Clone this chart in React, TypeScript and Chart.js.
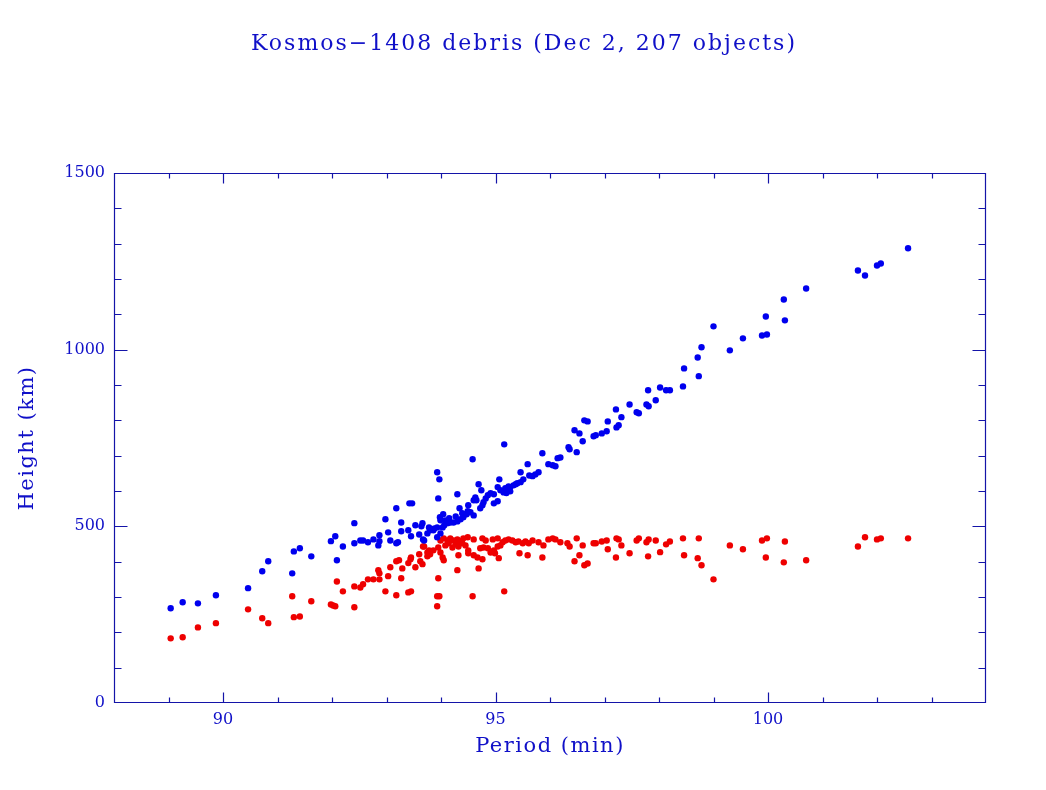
import React, { useEffect, useRef } from 'react';
import { Chart, registerables } from 'chart.js';

Chart.register(...registerables);

const TITLE = 'Kosmos\u22121408 debris (Dec 2, 207 objects)';
const X_LABEL = 'Period (min)';
const Y_LABEL = 'Height (km)';

const X_MIN = 88;
const X_MAX = 104;
const Y_MIN = 0;
const Y_MAX = 1500;
const X_MAJOR_TICKS = [90, 95, 100];
const Y_MAJOR_TICKS = [0, 500, 1000, 1500];
const X_MINOR_STEP = 1;
const Y_MINOR_STEP = 100;

// Apogee (blue)
const apogeePeriod = [
  89.04, 89.26, 89.54, 89.87, 90.46, 90.72, 90.83, 91.27, 91.30, 91.41,
  91.62, 91.98, 92.06, 92.09, 92.20, 92.41, 92.41, 92.52, 92.57, 92.66,
  92.76, 92.85, 92.87, 92.87, 92.98, 93.03, 93.07, 93.18, 93.18, 93.21,
  93.27, 93.27, 93.40, 93.42, 93.47, 93.45, 93.53, 93.60, 93.64, 93.66,
  93.69, 93.75, 93.78, 93.88, 93.93, 93.97, 93.95, 93.93, 94.04, 93.98,
  93.99, 93.99, 94.03, 94.06, 94.12, 94.17, 94.23, 94.30, 94.36, 94.41,
  94.49, 94.34, 94.50, 94.60, 94.30, 94.72, 94.76, 94.78, 94.60, 94.63,
  94.58, 94.69, 94.74, 94.91, 94.97, 94.97, 95.04, 95.04, 95.09, 95.15,
  95.18, 95.20, 95.24, 95.33, 95.40, 95.46, 95.51, 95.07, 95.16, 95.46,
  95.62, 95.59, 95.79, 95.86, 95.97, 96.05, 96.10, 96.14, 96.19, 96.34,
  96.36, 96.49, 96.45, 96.54, 96.60, 96.63, 96.69, 96.80, 96.84, 96.95,
  97.04, 97.06, 97.21, 97.22, 97.26, 97.31, 97.46, 97.59, 97.63, 97.77,
  97.81, 97.80, 97.94, 98.02, 98.13, 98.20, 98.44, 98.46, 98.71, 98.73,
  98.78, 99.00, 99.30, 99.54, 99.89, 99.98, 99.96, 100.31, 100.29, 100.70,
  101.65, 101.78, 102.00, 102.07, 102.57,
  93.80, 93.86, 93.67, 93.93, 94.08, 94.15, 94.27, 94.39, 94.47, 94.54,
  94.65, 94.82, 94.86, 95.27, 95.37, 95.68, 95.73, 95.27,
];
const apogeeKm = [
  268, 285, 282, 305, 325, 373, 401, 367, 429, 438,
  415, 458, 472, 404, 443, 509, 452, 460, 460, 455,
  463, 446, 475, 458, 520, 483, 460, 551, 452, 455,
  511, 486, 489, 565, 565, 472, 503, 477, 500, 509,
  460, 480, 497, 494, 653, 633, 579, 469, 534, 526,
  517, 480, 497, 503, 509, 511, 511, 514, 520, 526,
  543, 551, 560, 531, 591, 551, 560, 568, 574, 582,
  690, 619, 602, 594, 591, 565, 571, 611, 602, 596,
  608, 594, 613, 616, 622, 625, 633, 633, 732, 653,
  644, 676, 653, 707, 676, 673, 670, 693, 695, 724,
  718, 710, 772, 763, 741, 800, 797, 755, 758, 763,
  769, 797, 831, 780, 786, 809, 845, 823, 820, 845,
  840, 885, 857, 893, 885, 885, 896, 947, 978, 925,
  1007, 1066, 998, 1032, 1040, 1043, 1094, 1083, 1142, 1173,
  1224, 1210, 1238, 1244, 1287,
  489, 489, 463, 497, 517, 523, 528, 537, 534, 540,
  574, 579, 588, 611, 619, 642, 647, 599,
];

// Perigee (red)
const perigeePeriod = [
  89.04, 89.26, 89.54, 89.87, 90.46, 90.72, 90.83, 91.27, 91.30, 91.41,
  91.62, 91.98, 92.02, 92.06, 92.09, 92.20, 92.41, 92.41, 92.52, 92.57,
  92.66, 92.76, 92.85, 92.87, 92.87, 92.98, 93.03, 93.07, 93.18, 93.18,
  93.23, 93.27, 93.29, 93.40, 93.45, 93.44, 93.45, 93.53, 93.62, 93.66,
  93.60, 93.69, 93.75, 93.78, 93.86, 93.93, 93.93, 93.97, 93.95, 93.75,
  93.80, 93.95, 93.99, 94.03, 94.05, 93.99, 94.05, 94.12, 94.17, 94.23,
  94.30, 94.36, 94.41, 94.49, 94.08, 94.14, 94.21, 94.27, 94.32, 94.39,
  94.45, 94.50, 94.60, 94.76, 94.82, 94.78, 94.95, 95.04, 95.09, 94.91,
  94.97, 95.13, 95.18, 95.24, 95.31, 95.37, 95.42, 95.50, 95.55, 95.61,
  95.68, 94.32, 94.50, 94.60, 94.67, 94.76, 95.06, 95.44, 95.59, 95.79,
  95.88, 95.97, 96.05, 96.10, 96.19, 95.86, 96.32, 94.30, 94.69, 94.58,
  95.16, 96.36, 96.49, 96.60, 96.45, 96.54, 96.63, 96.69, 96.80, 96.84,
  96.95, 97.04, 97.06, 97.21, 97.22, 97.26, 97.31, 97.46, 97.59, 97.63,
  97.77, 97.81, 97.80, 97.94, 98.02, 98.13, 98.20, 98.44, 98.46, 98.71,
  98.73, 98.78, 99.00, 99.30, 99.54, 99.89, 99.98, 99.96, 100.31, 100.29,
  100.70, 101.65, 101.78, 102.00, 102.07, 102.57,
  93.67, 93.40, 94.72, 94.86, 94.99, 95.04,
];
const perigeeKm = [
  183, 186, 214, 226, 265, 240, 226, 302, 243, 245,
  288, 279, 276, 274, 344, 316, 330, 271, 327, 336,
  350, 350, 376, 367, 350, 316, 359, 384, 305, 401,
  404, 353, 381, 313, 316, 407, 412, 384, 401, 393,
  421, 443, 415, 432, 432, 302, 274, 302, 353, 426,
  421, 440, 426, 412, 404, 460, 466, 460, 466, 460,
  463, 457, 466, 469, 446, 452, 440, 449, 443, 452,
  446, 432, 463, 466, 460, 440, 463, 466, 446, 426,
  432, 455, 460, 463, 460, 455, 457, 452, 457, 452,
  460, 418, 424, 418, 412, 407, 410, 424, 418, 455,
  446, 463, 466, 463, 455, 412, 452, 376, 381, 302,
  316, 443, 466, 446, 401, 418, 390, 395, 452, 452,
  457, 460, 435, 412, 466, 463, 446, 424, 460, 466,
  455, 463, 415, 460, 427, 449, 457, 466, 418, 410,
  466, 390, 350, 446, 435, 460, 466, 412, 457, 398,
  404, 443, 469, 463, 466, 466,
  443, 396, 438, 438, 424, 443,
];

const TEXT_COLOR = '#1010c8';
const FRAME_COLOR = '#1414a8';
const APOGEE_COLOR = '#0000ee';
const PERIGEE_COLOR = '#ee0000';

const framePlugin = {
  id: 'pgFrame',
  afterDraw(chart: any) {
    const ctx = chart.ctx as CanvasRenderingContext2D;
    const { left, right, top, bottom } = chart.chartArea;
    const xs = chart.scales.x;
    const ys = chart.scales.y;
    const L = Math.round(left) + 0.5;
    const R = Math.round(right) - 0.5;
    const T = Math.round(top) + 0.5;
    const B = Math.round(bottom) - 0.5;
    ctx.save();
    ctx.strokeStyle = FRAME_COLOR;
    ctx.lineWidth = 1.2;
    ctx.beginPath();
    ctx.rect(L, T, R - L, B - T);
    for (let v = Math.ceil(X_MIN / X_MINOR_STEP) * X_MINOR_STEP; v <= X_MAX; v += X_MINOR_STEP) {
      if (v <= X_MIN || v >= X_MAX) continue;
      const px = Math.round(xs.getPixelForValue(v)) + 0.5;
      const len = X_MAJOR_TICKS.includes(v) ? 10 : 5;
      ctx.moveTo(px, B);
      ctx.lineTo(px, B - len);
      ctx.moveTo(px, T);
      ctx.lineTo(px, T + len);
    }
    for (let v = Y_MIN; v <= Y_MAX; v += Y_MINOR_STEP) {
      if (v <= Y_MIN || v >= Y_MAX) continue;
      const py = Math.round(ys.getPixelForValue(v)) + 0.5;
      const len = Y_MAJOR_TICKS.includes(v) ? 13 : 7;
      ctx.moveTo(L, py);
      ctx.lineTo(L + len, py);
      ctx.moveTo(R, py);
      ctx.lineTo(R - len, py);
    }
    ctx.stroke();

    ctx.fillStyle = TEXT_COLOR;
    ctx.textAlign = 'center';
    ctx.textBaseline = 'alphabetic';
    ctx.font = '22px "DejaVu Serif"';
    (ctx as any).letterSpacing = '2px';
    ctx.fillText(TITLE, chart.width / 2 + 1, 50);
    ctx.font = '21px "DejaVu Serif"';
    (ctx as any).letterSpacing = '1.5px';
    ctx.fillText(X_LABEL, (left + right) / 2, 752);
    ctx.translate(33, (top + bottom) / 2);
    ctx.rotate(-Math.PI / 2);
    ctx.fillText(Y_LABEL, 0, 0);
    ctx.restore();
  },
};

export default function App() {
  const ref = useRef<HTMLCanvasElement>(null);
  useEffect(() => {
    if (!ref.current) return;
    const tickFont = { family: '"DejaVu Serif"', size: 16 };
    const chart = new Chart(ref.current, {
      type: 'scatter',
      data: {
        datasets: [
          {
            label: 'Apogee',
            data: apogeePeriod.map((x, i) => ({ x, y: apogeeKm[i] })),
            backgroundColor: APOGEE_COLOR,
            borderColor: APOGEE_COLOR,
            pointRadius: 3.2,
            pointBorderWidth: 0,
            pointHoverRadius: 3.2,
          },
          {
            label: 'Perigee',
            data: perigeePeriod.map((x, i) => ({ x, y: perigeeKm[i] })),
            backgroundColor: PERIGEE_COLOR,
            borderColor: PERIGEE_COLOR,
            pointRadius: 3.2,
            pointBorderWidth: 0,
            pointHoverRadius: 3.2,
          },
        ],
      },
      options: {
        responsive: false,
        animation: false,
        devicePixelRatio: 1,
        events: [],
        layout: { padding: { top: 173, right: 60, left: 0, bottom: 0 } },
        plugins: {
          legend: { display: false },
          title: { display: false },
          tooltip: { enabled: false },
        },
        scales: {
          x: {
            type: 'linear',
            min: X_MIN,
            max: X_MAX,
            afterBuildTicks: (s: any) => {
              s.ticks = X_MAJOR_TICKS.map((value) => ({ value }));
            },
            afterFit: (s: any) => {
              s.height = 87;
            },
            grid: { display: false, drawTicks: false },
            border: { display: false },
            ticks: {
              color: TEXT_COLOR,
              font: tickFont,
              padding: 7,
              maxRotation: 0,
              autoSkip: false,
              callback: (v: any) => String(v),
            },
          },
          y: {
            type: 'linear',
            min: Y_MIN,
            max: Y_MAX,
            afterBuildTicks: (s: any) => {
              s.ticks = Y_MAJOR_TICKS.map((value) => ({ value }));
            },
            afterFit: (s: any) => {
              s.width = 114;
            },
            grid: { display: false, drawTicks: false },
            border: { display: false },
            ticks: {
              color: TEXT_COLOR,
              font: tickFont,
              padding: 9,
              autoSkip: false,
              callback: (v: any) => String(v),
            },
          },
        },
      },
      plugins: [framePlugin],
    } as any);
    return () => chart.destroy();
  }, []);
  return (
    <div style={{ position: 'fixed', left: 0, top: 0, width: 1046, height: 790, background: '#fff' }}>
      <canvas ref={ref} width={1046} height={790} style={{ display: 'block' }} />
    </div>
  );
}
